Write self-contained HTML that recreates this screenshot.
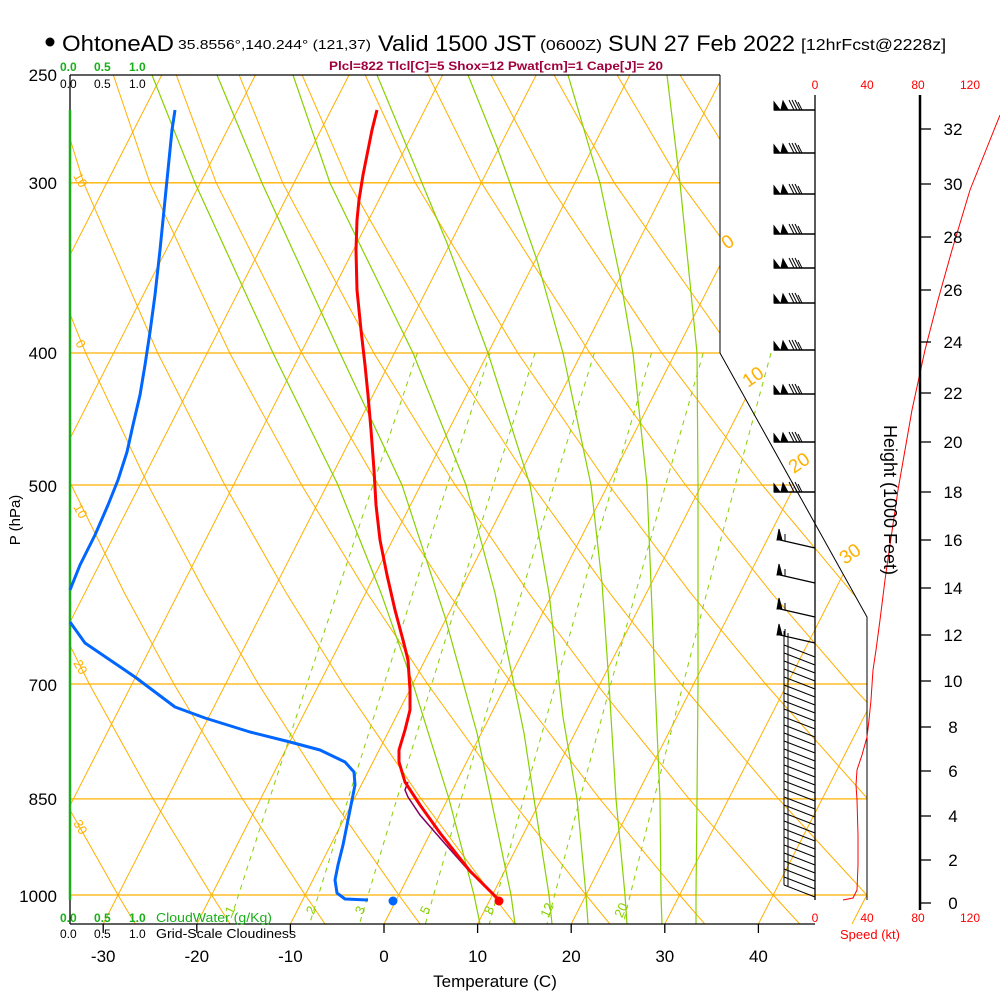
<!DOCTYPE html>
<html><head><meta charset="utf-8"><style>
body{margin:0;background:#fff}
svg{display:block;font-family:"Liberation Sans",sans-serif}
</style></head><body>
<svg width="1000" height="1000" viewBox="0 0 1000 1000" xmlns="http://www.w3.org/2000/svg">
<defs>
<clipPath id="cp"><polygon points="70,75 720,75 720,353 867,617 867,924 70,924"/></clipPath>
<clipPath id="cm"><rect x="70" y="353" width="800" height="571"/></clipPath>
<g id="bu"><line x1="-41" y1="0" x2="0" y2="0" stroke-width="1.5"/><polygon points="-41,0 -41,-8 -35,0"/><polygon points="-34,0 -32,-9 -27,0"/><line x1="-26" y1="-10" x2="-21" y2="0"/><line x1="-23" y1="-10" x2="-18" y2="0"/><line x1="-20" y1="-10" x2="-15" y2="0"/><line x1="-17" y1="-8" x2="-13" y2="0"/></g>
<g id="bs"><line x1="-35" y1="-8" x2="0" y2="0" stroke-width="1.2"/><polygon points="-38,-8 -36,-19 -33,-8"/><line x1="-30" y1="-7" x2="-30" y2="-14"/></g>
<g id="bl"><line x1="-31" y1="-12" x2="0" y2="0"/><line x1="-31" y1="-12" x2="-31" y2="-26"/><line x1="-27" y1="-11" x2="-27" y2="-24"/></g>
</defs>
<rect width="1000" height="1000" fill="#fff"/>
<g clip-path="url(#cp)" fill="none" stroke="#ffb000" stroke-width="1">
<g stroke-width="1.3">
<line x1="70" y1="182.8" x2="870" y2="182.8"/><line x1="70" y1="353" x2="870" y2="353"/><line x1="70" y1="485" x2="870" y2="485"/><line x1="70" y1="684" x2="870" y2="684"/><line x1="70" y1="798.9" x2="870" y2="798.9"/><line x1="70" y1="895" x2="870" y2="895"/>
</g>
<line x1="68.2" y1="75" x2="-364.8" y2="924"/><line x1="161.8" y1="75" x2="-271.2" y2="924"/><line x1="255.4" y1="75" x2="-177.6" y2="924"/><line x1="349" y1="75" x2="-84" y2="924"/><line x1="442.6" y1="75" x2="9.6" y2="924"/><line x1="536.2" y1="75" x2="103.2" y2="924"/><line x1="629.8" y1="75" x2="196.8" y2="924"/><line x1="723.4" y1="75" x2="290.4" y2="924"/><line x1="817" y1="75" x2="384" y2="924"/><line x1="910.6" y1="75" x2="477.6" y2="924"/><line x1="1004.2" y1="75" x2="571.2" y2="924"/><line x1="1097.8" y1="75" x2="664.8" y2="924"/><line x1="1191.4" y1="75" x2="758.4" y2="924"/><line x1="1285" y1="75" x2="852" y2="924"/>
<polyline points="-264.5,75 -248.1,182.8 -202.4,353 -159,485 -118.2,592.9 -79.7,684 -25.7,798.9 24.4,895 43.4,929.5"/>
<polyline points="-201.5,75 -181.8,182.8 -130.4,353 -82.2,485 -37.3,592.9 4.8,684 63.7,798.9 118,895 138.6,929.5"/>
<polyline points="-138.6,75 -115.4,182.8 -58.4,353 -5.5,485 43.6,592.9 89.3,684 153,798.9 211.6,895 233.7,929.5"/>
<polyline points="-75.6,75 -49.1,182.8 13.7,353 71.3,485 124.4,592.9 173.9,684 242.4,798.9 305.2,895 328.9,929.5"/>
<polyline points="-12.6,75 17.2,182.8 85.7,353 148.1,485 205.3,592.9 258.4,684 331.7,798.9 398.8,895 424.1,929.5"/>
<polyline points="50.3,75 83.6,182.8 157.7,353 224.8,485 286.2,592.9 342.9,684 421.1,798.9 492.4,895 519.2,929.5"/>
<polyline points="113.3,75 149.9,182.8 229.7,353 301.6,485 367.1,592.9 427.5,684 510.4,798.9 586,895 614.4,929.5"/>
<polyline points="176.3,75 216.2,182.8 301.8,353 378.4,485 448,592.9 512,684 599.8,798.9 679.6,895 709.6,929.5"/>
<polyline points="239.2,75 282.6,182.8 373.8,353 455.1,485 528.8,592.9 596.5,684 689.1,798.9 773.2,895 804.8,929.5"/>
<polyline points="302.2,75 348.9,182.8 445.8,353 531.9,485 609.7,592.9 681,684 778.5,798.9 866.8,895 899.9,929.5"/>
<polyline points="365.2,75 415.2,182.8 517.8,353 608.7,485 690.6,592.9 765.5,684 867.8,798.9 960.4,895"/>
<polyline points="428.2,75 481.5,182.8 589.8,353 685.5,485 771.5,592.9 850,684 957.2,798.9"/>
<polyline points="491.1,75 547.9,182.8 661.8,353 762.2,485 852.4,592.9 934.5,684"/>
<polyline points="554.1,75 614.2,182.8 733.9,353 839,485 933.3,592.9"/>
<polyline points="617.1,75 680.5,182.8 805.9,353 915.7,485"/>
<polyline points="680,75 746.9,182.8 877.9,353"/>
<polyline points="743,75 813.2,182.8 949.9,353"/>
<polyline points="806,75 879.5,182.8"/>
<polyline points="868.9,75 945.8,182.8"/>
<g stroke="#88d000" stroke-width="1.2">
<polyline points="152,75 195,183 273,353 338,485 381,593 413,684 449,799 474,895 480,924"/>
<polyline points="217,75 262,183 340,353 402,485 445,617 477,733 491,799 511,895 515,924"/>
<polyline points="293,75 330,183 364,253 413,353 466,485 495,593 524,733 534,799 549,895 552,924"/>
<polyline points="377,75 422,183 447,243 488,353 530,485 549,593 563,717 577,799 586,895 588,924"/>
<polyline points="468,75 497,147 510,183 537,260 563,353 591,485 602,583 609,684 616,799 625,895 627,924"/>
<polyline points="568,75 590,150 600,183 620,277 633,353 647,485 655,684 660,799 661,895 662,924"/>
<polyline points="667,75 680,183 697,353 698,485 698,684 697,799 696,895 696,924"/>
</g>
</g>
<g clip-path="url(#cm)" fill="none" stroke="#88d000" stroke-width="1" stroke-dasharray="5,5">
<polyline points="417.4,353 372.9,485 337.1,592.9 307,684 269.5,798.9 238.5,895 227.4,929.5"/>
<polyline points="490.1,353 447.3,485 412.8,592.9 384.1,684 348.1,798.9 318.5,895 307.9,929.5"/>
<polyline points="535,353 493.3,485 459.7,592.9 431.8,684 396.9,798.9 368.1,895 357.8,929.5"/>
<polyline points="594.3,353 554,485 521.6,592.9 494.8,684 461.2,798.9 433.6,895 423.8,929.5"/>
<polyline points="651.6,353 612.7,485 581.6,592.9 555.8,684 523.6,798.9 497.2,895 487.8,929.5"/>
<polyline points="703.2,353 665.6,485 635.6,592.9 610.8,684 579.9,798.9 554.6,895 545.6,929.5"/>
<polyline points="771,353 735.2,485 706.7,592.9 683.2,684 654,798.9 630.2,895 621.8,929.5"/>
</g>
<g font-size="13" fill="#88d000" text-anchor="middle">
<text x="234" y="912" transform="rotate(-65 234 912)">1</text>
<text x="315" y="912" transform="rotate(-65 315 912)">2</text>
<text x="364" y="912" transform="rotate(-65 364 912)">3</text>
<text x="429" y="912" transform="rotate(-65 429 912)">5</text>
<text x="493" y="912" transform="rotate(-65 493 912)">8</text>
<text x="551" y="912" transform="rotate(-65 551 912)">12</text>
<text x="625" y="912" transform="rotate(-65 625 912)">20</text>
</g>
<g font-size="13" fill="#ffb000">
<text x="73" y="176" transform="rotate(60 73 176)">10</text>
<text x="75" y="343" transform="rotate(60 75 343)">0</text>
<text x="73" y="507" transform="rotate(60 73 507)">10</text>
<text x="73" y="663" transform="rotate(60 73 663)">20</text>
<text x="73" y="823" transform="rotate(60 73 823)">30</text>
</g>
<g font-size="19" fill="#ffb000">
<text x="727" y="250" transform="rotate(-35 727 250)">0</text>
<text x="748" y="388" transform="rotate(-35 748 388)">10</text>
<text x="794" y="474" transform="rotate(-35 794 474)">20</text>
<text x="845" y="565" transform="rotate(-35 845 565)">30</text>
</g>
<!-- frame -->
<line x1="70" y1="75" x2="720" y2="75" stroke="#000" stroke-width="1.3"/>
<line x1="720" y1="75" x2="720" y2="353" stroke="#000" stroke-width="1"/>
<polyline points="720,353 867,617 867,900" fill="none" stroke="#000" stroke-width="1"/>
<line x1="815" y1="95" x2="815" y2="900" stroke="#000" stroke-width="1.3"/>
<line x1="70" y1="75" x2="70" y2="924" stroke="#000" stroke-width="1.3"/>
<line x1="70" y1="924" x2="815" y2="924" stroke="#000" stroke-width="1.3"/>
<line x1="70" y1="110" x2="70" y2="900" stroke="#1aae1a" stroke-width="2.5"/>
<g stroke="#000" stroke-width="1.3">
<line x1="103.2" y1="924" x2="103.2" y2="933"/><line x1="196.8" y1="924" x2="196.8" y2="933"/><line x1="290.4" y1="924" x2="290.4" y2="933"/><line x1="384" y1="924" x2="384" y2="933"/><line x1="477.6" y1="924" x2="477.6" y2="933"/><line x1="571.2" y1="924" x2="571.2" y2="933"/><line x1="664.8" y1="924" x2="664.8" y2="933"/><line x1="758.4" y1="924" x2="758.4" y2="933"/>
</g>
<!-- profiles -->
<polyline fill="none" stroke="#0066ff" stroke-width="3" stroke-linejoin="round" points="368,900 345,899 337,893 335,880 338,865 343,845 349,815 352,800 355,785 354,772 345,762 320,750 290,742 250,732 205,718 175,707 155,692 135,677 110,660 85,643 70,622"/>
<polyline fill="none" stroke="#0066ff" stroke-width="3" stroke-linejoin="round" points="70,590 80,565 95,535 108,505 118,480 127,452 133,425 140,395 145,365 150,332 155,295 160,250 165,200 169,160 172,130 175,110"/>
<circle cx="393" cy="901" r="4.5" fill="#0066ff"/>
<polyline fill="none" stroke="#800060" stroke-width="1.5" points="498,898 470,872 440,838 420,815 408,797 405,790 408,782"/>
<polyline fill="none" stroke="#ff0000" stroke-width="3" stroke-linejoin="round" points="499,900 470,871 440,833 420,805 405,782 399,762 399,750 405,730 410,710 410,690 408,660 403,640 395,610 387,575 380,540 376,505 374,470 371,430 368,395 365,365 361,330 357,290 356,250 357,220 359,200 363,175 367,155 372,130 377,110"/>
<circle cx="499" cy="901" r="4.5" fill="#ff0000"/>
<polyline fill="none" stroke="#ff0000" stroke-width="1" points="843,900 853,898 857,890 858,865 858,835 857,800 856,785 857,770 862,755 867,737 869,720 871,700 873,670 876,650 880,620 885,580 890,545 898,490 905,450 912,410 925,350 938,300 952,250 970,190 986,150 1000,115"/>
<!-- height axis -->
<line x1="920" y1="95" x2="920" y2="910" stroke="#000" stroke-width="2.5"/>
<g stroke="#000" stroke-width="1.3">
<line x1="920" y1="903" x2="931" y2="903"/><line x1="920" y1="860" x2="931" y2="860"/><line x1="920" y1="816" x2="931" y2="816"/><line x1="920" y1="771" x2="931" y2="771"/><line x1="920" y1="727" x2="931" y2="727"/><line x1="920" y1="681" x2="931" y2="681"/><line x1="920" y1="635" x2="931" y2="635"/><line x1="920" y1="588" x2="931" y2="588"/><line x1="920" y1="540" x2="931" y2="540"/><line x1="920" y1="492" x2="931" y2="492"/><line x1="920" y1="442" x2="931" y2="442"/><line x1="920" y1="393" x2="931" y2="393"/><line x1="920" y1="342" x2="931" y2="342"/><line x1="920" y1="290" x2="931" y2="290"/><line x1="920" y1="237" x2="931" y2="237"/><line x1="920" y1="184" x2="931" y2="184"/><line x1="920" y1="129" x2="931" y2="129"/>
</g>
<g font-size="17" text-anchor="middle">
<text x="953" y="909">0</text><text x="953" y="866">2</text><text x="953" y="822">4</text><text x="953" y="777">6</text><text x="953" y="733">8</text><text x="953" y="687">10</text><text x="953" y="641">12</text><text x="953" y="594">14</text><text x="953" y="546">16</text><text x="953" y="498">18</text><text x="953" y="448">20</text><text x="953" y="399">22</text><text x="953" y="348">24</text><text x="953" y="296">26</text><text x="953" y="243">28</text><text x="953" y="190">30</text><text x="953" y="135">32</text>
</g>
<!-- barbs -->
<g stroke="#000" fill="#000" stroke-width="1">
<use href="#bu" x="815" y="110"/><use href="#bu" x="815" y="153"/><use href="#bu" x="815" y="194"/><use href="#bu" x="815" y="234"/><use href="#bu" x="815" y="268"/><use href="#bu" x="815" y="303"/><use href="#bu" x="815" y="350"/><use href="#bu" x="815" y="394"/><use href="#bu" x="815" y="442"/><use href="#bu" x="815" y="492"/>
<use href="#bs" x="815" y="548"/><use href="#bs" x="815" y="583"/><use href="#bs" x="815" y="617"/><use href="#bs" x="815" y="643"/>
<use href="#bl" x="815" y="657"/><use href="#bl" x="815" y="665"/><use href="#bl" x="815" y="673"/><use href="#bl" x="815" y="681"/><use href="#bl" x="815" y="689"/><use href="#bl" x="815" y="697"/><use href="#bl" x="815" y="705"/><use href="#bl" x="815" y="713"/><use href="#bl" x="815" y="721"/><use href="#bl" x="815" y="729"/><use href="#bl" x="815" y="737"/><use href="#bl" x="815" y="745"/><use href="#bl" x="815" y="753"/><use href="#bl" x="815" y="761"/><use href="#bl" x="815" y="769"/><use href="#bl" x="815" y="777"/><use href="#bl" x="815" y="785"/><use href="#bl" x="815" y="793"/><use href="#bl" x="815" y="801"/><use href="#bl" x="815" y="809"/><use href="#bl" x="815" y="817"/><use href="#bl" x="815" y="825"/><use href="#bl" x="815" y="833"/><use href="#bl" x="815" y="841"/><use href="#bl" x="815" y="849"/><use href="#bl" x="815" y="857"/><use href="#bl" x="815" y="865"/><use href="#bl" x="815" y="873"/><use href="#bl" x="815" y="881"/><use href="#bl" x="815" y="889"/><use href="#bl" x="815" y="897"/>
</g>
<!-- texts -->
<g font-size="13" fill="#000">
<circle cx="50" cy="42" r="4.5" fill="#000"/>
<text x="62" y="51" font-size="22" textLength="112" lengthAdjust="spacingAndGlyphs">OhtoneAD</text>
<text x="178" y="49" font-size="13" textLength="193" lengthAdjust="spacingAndGlyphs">35.8556°,140.244° (121,37)</text>
<text x="378" y="51" font-size="22" textLength="158" lengthAdjust="spacingAndGlyphs">Valid 1500 JST</text>
<text x="540" y="50" font-size="15" textLength="62" lengthAdjust="spacingAndGlyphs">(0600Z)</text>
<text x="608" y="51" font-size="22" textLength="187" lengthAdjust="spacingAndGlyphs">SUN 27 Feb 2022</text>
<text x="801" y="50" font-size="16" textLength="145" lengthAdjust="spacingAndGlyphs">[12hrFcst@2228z]</text>
<text x="329" y="70" font-size="12" fill="#a0003c" font-weight="bold" textLength="334" lengthAdjust="spacingAndGlyphs">Plcl=822 Tlcl[C]=5 Shox=12 Pwat[cm]=1 Cape[J]= 20</text>
<g fill="#1aae1a" font-size="12" font-weight="bold"><text x="60" y="71">0.0</text><text x="94" y="71">0.5</text><text x="129" y="71">1.0</text>
<text x="60" y="922">0.0</text><text x="94" y="922">0.5</text><text x="129" y="922">1.0</text><text x="156" y="922" font-weight="normal" font-size="13" textLength="116" lengthAdjust="spacingAndGlyphs">CloudWater (g/Kg)</text></g>
<g font-size="12"><text x="60" y="88">0.0</text><text x="94" y="88">0.5</text><text x="129" y="88">1.0</text>
<text x="60" y="938">0.0</text><text x="94" y="938">0.5</text><text x="129" y="938">1.0</text><text x="156" y="938" font-size="13" textLength="140" lengthAdjust="spacingAndGlyphs">Grid-Scale Cloudiness</text></g>
<g font-size="17" text-anchor="end"><text x="57" y="81">250</text><text x="57" y="189">300</text><text x="57" y="359">400</text><text x="57" y="492">500</text><text x="57" y="691">700</text><text x="57" y="805">850</text><text x="57" y="902">1000</text></g>
<text transform="translate(20,520) rotate(-90)" font-size="15" text-anchor="middle">P (hPa)</text>
<text x="495" y="987" font-size="17" text-anchor="middle">Temperature (C)</text>
<g font-size="17" text-anchor="middle">
<text x="103.2" y="962">-30</text><text x="196.8" y="962">-20</text><text x="290.4" y="962">-10</text><text x="384" y="962">0</text><text x="477.6" y="962">10</text><text x="571.2" y="962">20</text><text x="664.8" y="962">30</text><text x="758.4" y="962">40</text>
</g>
<text transform="translate(884,500) rotate(90)" font-size="18" text-anchor="middle">Height (1000 Feet)</text>
<g fill="#ff0000" font-size="12" text-anchor="middle"><text x="815" y="89">0</text><text x="867" y="89">40</text><text x="918" y="89">80</text><text x="970" y="89">120</text>
<text x="815" y="922">0</text><text x="867" y="922">40</text><text x="918" y="922">80</text><text x="970" y="922">120</text>
<text x="870" y="939" font-size="13">Speed (kt)</text></g>
</g>
</svg>
</body></html>
